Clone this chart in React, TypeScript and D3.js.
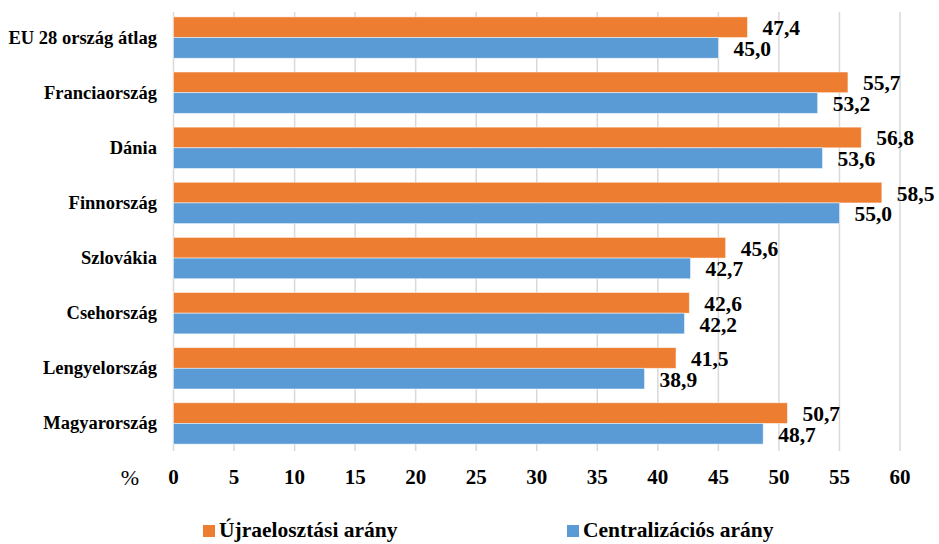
import React from "react";
import * as d3 from "d3";

const categories = [
  "EU 28 ország átlag",
  "Franciaország",
  "Dánia",
  "Finnország",
  "Szlovákia",
  "Csehország",
  "Lengyelország",
  "Magyarország",
];
const redistribution = [47.4, 55.7, 56.8, 58.5, 45.6, 42.6, 41.5, 50.7];
const centralization = [45.0, 53.2, 53.6, 55.0, 42.7, 42.2, 38.9, 48.7];
const xTicks = [0, 5, 10, 15, 20, 25, 30, 35, 40, 45, 50, 55, 60];
const seriesNames = ["Újraelosztási arány", "Centralizációs arány"];
const seriesColors = ["#ED7D31", "#5B9BD5"];

const W = 939;
const H = 544;
const FONT = "'Liberation Serif', 'Times New Roman', serif";

const fmt = (v: number) => v.toFixed(1).replace(".", ",");

export default function App() {
  const x = d3.scaleLinear().domain([0, 60]).range([173.5, 900]);
  const y = d3.scaleBand<string>().domain(categories).range([10, 451]).paddingInner(0.25).paddingOuter(0.125);
  const half = y.bandwidth() / 2;
  const series = [redistribution, centralization];

  return (
    <svg width={W} height={H} style={{ position: "absolute", left: 0, top: 0, background: "#fff" }}>
      {/* vertical gridlines */}
      {xTicks.map((t) => (
        <line key={t} x1={x(t)} x2={x(t)} y1={12} y2={451} stroke="#d9d9d9" strokeWidth={1.5} />
      ))}

      {/* bars */}
      {categories.map((c, i) =>
        series.map((s, k) => {
          const y0 = (y(c) as number) + k * half;
          return (
            <rect
              key={c + k}
              x={x(0)}
              y={y0}
              width={x(s[i]) - x(0)}
              height={half}
              fill={seriesColors[k]}
              stroke="#ffffff"
              strokeOpacity={0.6}
              strokeWidth={0.8}
            />
          );
        })
      )}

      {/* value labels */}
      {categories.map((c, i) =>
        series.map((s, k) => {
          const y0 = (y(c) as number) + k * half;
          return (
            <text
              key={"l" + c + k}
              x={x(s[i]) + 15}
              y={y0 + half / 2 + 1}
              dominantBaseline="central"
              fontFamily={FONT}
              fontWeight="bold"
              fontSize={21.5}
              fill="#000"
            >
              {fmt(s[i])}
            </text>
          );
        })
      )}

      {/* category labels */}
      {categories.map((c) => (
        <text
          key={"c" + c}
          x={157}
          y={(y(c) as number) + y.bandwidth() / 2}
          dominantBaseline="central"
          textAnchor="end"
          fontFamily={FONT}
          fontWeight="bold"
          fontSize={18.5}
          fill="#000"
        >
          {c}
        </text>
      ))}

      {/* x tick labels */}
      {xTicks.map((t) => (
        <text
          key={"t" + t}
          x={x(t)}
          y={484}
          textAnchor="middle"
          fontFamily={FONT}
          fontWeight="bold"
          fontSize={21}
          fill="#000"
        >
          {t}
        </text>
      ))}
      <text x={130} y={485} textAnchor="middle" fontFamily={FONT} fontSize={22} fill="#000">
        %
      </text>

      {/* legend */}
      {seriesNames.map((n, k) => {
        const lx = k === 0 ? 203 : 567;
        return (
          <g key={n}>
            <rect x={lx} y={525} width={12} height={12} fill={seriesColors[k]} />
            <text x={lx + 16} y={537} fontFamily={FONT} fontWeight="bold" fontSize={21.5} fill="#000">
              {n}
            </text>
          </g>
        );
      })}
    </svg>
  );
}
